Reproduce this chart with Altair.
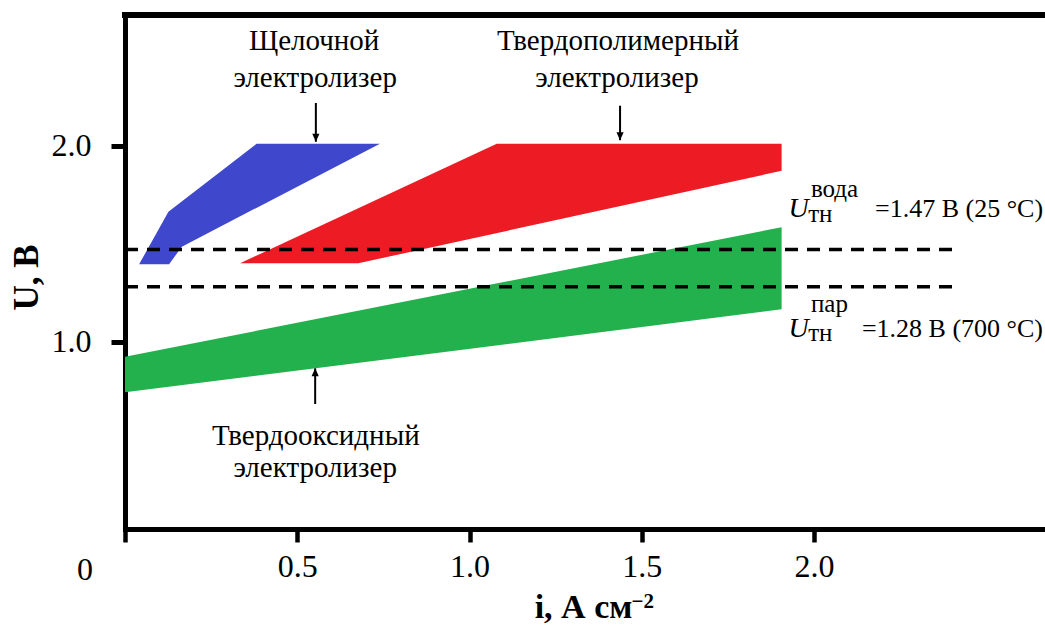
import altair as alt
import pandas as pd

# Operating windows: current density i (A/cm²) against cell voltage U (V)
alkaline_i = [0.041, 0.126, 0.382, 0.740, 0.165, 0.128]
alkaline_u = [1.395, 1.663, 2.010, 2.010, 1.485, 1.395]
pem_i = [0.334, 1.079, 1.906, 1.906, 0.677]
pem_u = [1.400, 2.010, 2.010, 1.872, 1.400]
soec_i = [0.000, 1.906, 1.906, 0.000]
soec_u = [0.923, 1.584, 1.165, 0.742]

region_names = ["alkaline", "pem", "soec"]
region_colors = ["#3f48cc", "#ed1c24", "#22b14c"]

# Thermoneutral voltages for liquid water and steam
thermo_u = [1.47, 1.28]
thermo_medium = ["вода", "пар"]
thermo_temp = ["25 °C", "700 °C"]

# Captions of the three electrolyser types
caption_lines = ["Щелочной", "электролизер",
                 "Твердополимерный", "электролизер",
                 "Твердооксидный", "электролизер"]

x_ticks = [0, 0.5, 1.0, 1.5, 2.0]
y_ticks = [1.0, 2.0]

# ---- layout (data units) -------------------------------------------------
W, H = 920, 514
X_DOMAIN = [0, 2.6705]
Y_DOMAIN = [0.0444, 2.6668]
DASH_END = 2.415

caption_pos_i = [0.549, 0.552, 1.431, 1.428, 0.554, 0.552]
caption_pos_u = [2.488, 2.297, 2.488, 2.297, 0.473, 0.311]

arrow_i = [0.554, 1.437, 0.552]
arrow_tail = [2.218, 2.204, 0.682]
arrow_tip = [2.020, 2.028, 0.864]
arrow_dir = ["down", "down", "up"]

u_sym_i = 1.985          # right edge of the italic U
sup_i = 1.991
sub_i = 1.983
eq_i = [2.177, 2.139]
u_sym_base = [1.636, 1.024]
sup_base = [1.738, 1.152]
sub_base = [1.610, 1.006]

SERIF = "Liberation Serif, Times New Roman, serif"

x_scale = alt.Scale(domain=X_DOMAIN, nice=False, zero=False)
y_scale = alt.Scale(domain=Y_DOMAIN, nice=False, zero=False)

x_axis = alt.Axis(
    values=x_ticks,
    labelExpr="datum.value == 0 ? '' : format(datum.value, '.1f')",
    domainColor="black", domainWidth=5, domainCap="square",
    tickColor="black", tickWidth=4.5, tickSize=13,
    labelFont=SERIF, labelFontSize=32, labelColor="black", labelPadding=9,
    grid=False,
    title="i, А см", titleFont=SERIF, titleFontSize=34, titleFontWeight="bold",
    titleColor="black", titleX=458, titleY=88, titleAlign="center",
    titleBaseline="alphabetic",
)
y_axis = alt.Axis(
    values=y_ticks, format=".1f",
    domainColor="black", domainWidth=5, domainCap="square",
    tickColor="black", tickWidth=5, tickSize=14,
    labelFont=SERIF, labelFontSize=32, labelColor="black", labelPadding=20,
    grid=False,
    title="U, В", titleFont=SERIF, titleFontSize=35, titleFontWeight="bold",
    titleColor="black", titleAngle=270, titleX=-88, titleY=262,
    titleAlign="center", titleBaseline="alphabetic",
)


def X(field):
    return alt.X(field, scale=x_scale, axis=x_axis)


def Y(field):
    return alt.Y(field, scale=y_scale, axis=y_axis)


# ---- data frames ---------------------------------------------------------
rows = []
for name, xs, ys in zip(region_names, [alkaline_i, pem_i, soec_i],
                        [alkaline_u, pem_u, soec_u]):
    for k, (a, b) in enumerate(zip(xs, ys)):
        rows.append({"region": name, "k": k, "i": a, "u": b})
poly_df = pd.DataFrame(rows)

thermo_df = pd.DataFrame({"u": thermo_u, "i": [0.0] * 2, "i1": [DASH_END] * 2})

arrow_df = pd.DataFrame({"i": arrow_i, "u": arrow_tail, "tip": arrow_tip,
                         "dir": arrow_dir})

caption_df = pd.DataFrame({"t": caption_lines, "i": caption_pos_i, "u": caption_pos_u})

u_df = pd.DataFrame({"t": ["U", "U"], "i": [u_sym_i] * 2, "u": u_sym_base})
sup_df = pd.DataFrame({"t": thermo_medium, "i": [sup_i] * 2, "u": sup_base})
sub_df = pd.DataFrame({"t": ["тн", "тн"], "i": [sub_i] * 2, "u": sub_base})
eq_df = pd.DataFrame({
    "t": [f"={v:.2f} В ({tc})" for v, tc in zip(thermo_u, thermo_temp)],
    "i": eq_i, "u": u_sym_base})

origin_df = pd.DataFrame({"t": ["0"], "i": [-0.116], "u": [-0.216]})
unit_sup_df = pd.DataFrame({"t": ["−2"], "i": [1.470], "u": [-0.357]})

# ---- layers --------------------------------------------------------------
polygons = alt.Chart(poly_df).mark_line(filled=True).encode(
    x=X("i:Q"),
    y=Y("u:Q"),
    order="k:O",
    detail="region:N",
    color=alt.Color("region:N", scale=alt.Scale(domain=region_names, range=region_colors),
                    legend=None),
)

dashes = alt.Chart(thermo_df).mark_rule(
    color="black", strokeWidth=3.5, strokeDash=[13, 9]
).encode(x=X("i:Q"), x2="i1:Q", y=Y("u:Q"))

arrow_shafts = alt.Chart(arrow_df).mark_rule(color="black", strokeWidth=2).encode(
    x=X("i:Q"), y=Y("u:Q"), y2="tip:Q",
)

arrow_heads = alt.Chart(arrow_df).mark_point(filled=True, size=64, color="black",
                                             opacity=1).encode(
    x=X("i:Q"),
    y=Y("tip:Q"),
    shape=alt.Shape("dir:N", scale=alt.Scale(
        domain=["down", "up"],
        range=["M-0.9,-2L0.9,-2L0,0Z", "M-0.9,2L0.9,2L0,0Z"]), legend=None),
)


def text_layer(df, size, align="left", style="normal", weight="normal"):
    return alt.Chart(df).mark_text(
        font=SERIF, fontSize=size, align=align, baseline="alphabetic",
        fontStyle=style, fontWeight=weight, color="black",
    ).encode(x=X("i:Q"), y=Y("u:Q"), text="t:N")


captions = text_layer(caption_df, 29, align="center")
u_text = text_layer(u_df, 28, align="right", style="italic")
sup_text = text_layer(sup_df, 25)
sub_text = text_layer(sub_df, 25)
eq_text = text_layer(eq_df, 26)
origin_text = text_layer(origin_df, 32, align="center")
unit_sup = text_layer(unit_sup_df, 21, weight="bold")

top_frame = alt.Chart(poly_df).mark_rule(
    color="black", strokeWidth=5, strokeCap="square"
).encode(x=alt.value(0), x2=alt.value(W), y=alt.value(0))

chart = alt.layer(
    polygons, dashes, arrow_shafts, arrow_heads,
    captions, u_text, sup_text, sub_text, eq_text,
    origin_text, unit_sup, top_frame,
).properties(
    width=W, height=H,
    autosize=alt.AutoSizeParams(type="none"),
    padding={"left": 125, "top": 15, "right": 0, "bottom": 96},
    background="white",
).configure_view(stroke=None)

chart.save("out.html", embed_options={"renderer": "svg", "actions": False})
